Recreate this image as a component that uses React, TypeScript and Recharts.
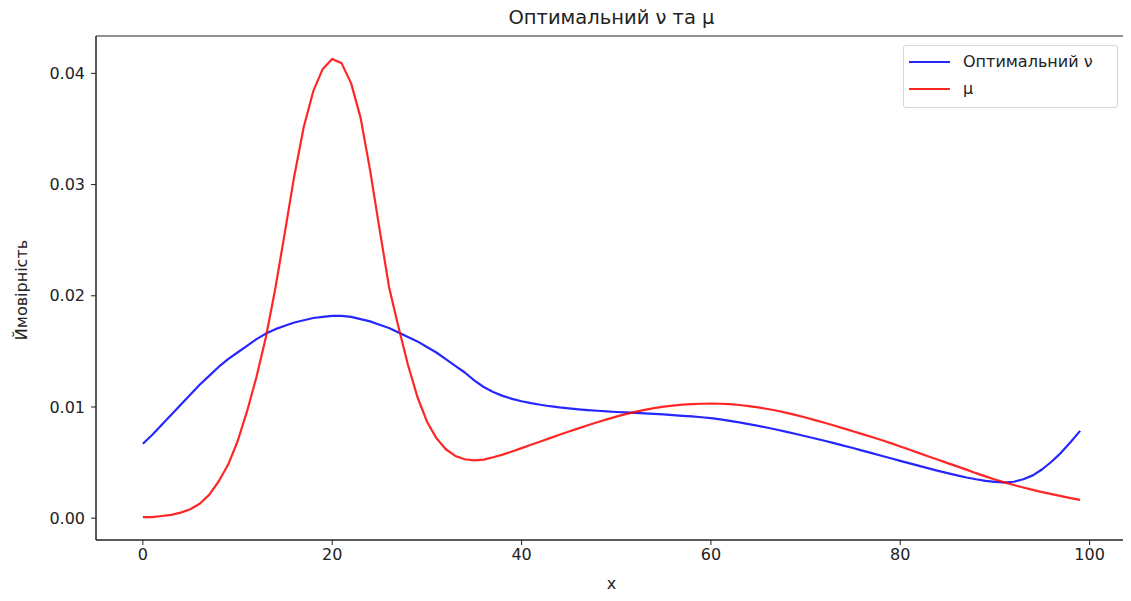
import React from 'react';
import { LineChart, Line, XAxis, YAxis, ReferenceArea } from 'recharts';

// Grid points x = 0 … 99
const xValues = [
  0, 1, 2, 3, 4, 5, 6, 7, 8, 9, 10, 11, 12, 13, 14, 15, 16, 17, 18, 19,
  20, 21, 22, 23, 24, 25, 26, 27, 28, 29, 30, 31, 32, 33, 34, 35, 36, 37, 38, 39,
  40, 41, 42, 43, 44, 45, 46, 47, 48, 49, 50, 51, 52, 53, 54, 55, 56, 57, 58, 59,
  60, 61, 62, 63, 64, 65, 66, 67, 68, 69, 70, 71, 72, 73, 74, 75, 76, 77, 78, 79,
  80, 81, 82, 83, 84, 85, 86, 87, 88, 89, 90, 91, 92, 93, 94, 95, 96, 97, 98, 99,
];

// Optimal ν
const nuValues = [
  0.0067, 0.0075, 0.0084, 0.0093, 0.0102, 0.0111, 0.012, 0.0128, 0.0136, 0.0143,
  0.0149, 0.0155, 0.0161, 0.0166, 0.017, 0.0173, 0.0176, 0.0178, 0.018, 0.0181,
  0.0182, 0.0182, 0.0181, 0.0179, 0.0177, 0.0174, 0.0171, 0.0167, 0.0163, 0.0159,
  0.0154, 0.0149, 0.0143, 0.0137, 0.0131, 0.0124, 0.0118, 0.01135, 0.011, 0.01073,
  0.01052, 0.01035, 0.0102, 0.01007, 0.00996, 0.00987, 0.00979, 0.00972, 0.00966, 0.0096,
  0.00955, 0.00951, 0.00947, 0.00943, 0.00938, 0.00933, 0.00927, 0.00921, 0.00915, 0.00908,
  0.009, 0.00888, 0.00875, 0.00861, 0.00846, 0.0083, 0.00813, 0.00795, 0.00776, 0.00757,
  0.00737, 0.00717, 0.00696, 0.00675, 0.00653, 0.00631, 0.00608, 0.00585, 0.00562, 0.00539,
  0.00516, 0.00493, 0.0047, 0.00448, 0.00426, 0.00405, 0.00385, 0.00366, 0.0035, 0.00336,
  0.00326, 0.00321, 0.00328, 0.0035, 0.00385, 0.0044, 0.0051, 0.0059, 0.00685, 0.00785,
];

// Target distribution μ
const muValues = [
  0.0001, 0.0001, 0.0002, 0.0003, 0.0005, 0.0008, 0.0013, 0.0021, 0.0033, 0.0048,
  0.0069, 0.0096, 0.0127, 0.0163, 0.0207, 0.0257, 0.0308, 0.0352, 0.0384, 0.0404,
  0.0413, 0.0409, 0.0391, 0.036, 0.0313, 0.026, 0.0208, 0.0172, 0.0138, 0.0109,
  0.0087, 0.0072, 0.0062, 0.0056, 0.0053, 0.0052, 0.00527, 0.00548, 0.00572, 0.006,
  0.0063, 0.0066, 0.0069, 0.0072, 0.0075, 0.00779, 0.00808, 0.00836, 0.00863, 0.00889,
  0.00913, 0.00936, 0.00956, 0.00974, 0.0099, 0.01003, 0.01013, 0.01021, 0.01026, 0.01029,
  0.0103, 0.01029, 0.01025, 0.01018, 0.01008, 0.00996, 0.00982, 0.00966, 0.00947, 0.00927,
  0.00905, 0.00882, 0.00858, 0.00833, 0.00808, 0.00782, 0.00756, 0.0073, 0.00703, 0.00675,
  0.00645, 0.00615, 0.00585, 0.00555, 0.00525, 0.00495, 0.00466, 0.00437, 0.00405, 0.00376,
  0.00348, 0.00322, 0.00298, 0.00276, 0.00255, 0.00235, 0.00216, 0.00198, 0.00181, 0.00165,
];

const xTicks = [0, 20, 40, 60, 80, 100];
const yTicks = [0, 0.01, 0.02, 0.03, 0.04];

const TITLE = 'Оптимальний ν та μ';
const X_LABEL = 'x';
const Y_LABEL = 'Ймовірність';
const NU_NAME = 'Оптимальний ν';
const MU_NAME = 'μ';

const NU_COLOR = 'rgba(0,0,255,0.85)';
const MU_COLOR = 'rgba(255,0,0,0.85)';
const FONT = '"DejaVu Sans", sans-serif';
const TEXT = '#222';
const AXIS = '#222';

const data = xValues.map((x, i) => ({ x, nu: nuValues[i], mu: muValues[i] }));

// 5% auto-margins around the data extents
const allY = [...nuValues, ...muValues];
const xMin = Math.min(...xValues);
const xMax = Math.max(...xValues);
const yMin = Math.min(...allY);
const yMax = Math.max(...allY);
const xPad = (xMax - xMin) * 0.05;
const yPad = (yMax - yMin) * 0.05;
const xDomain: [number, number] = [xMin - xPad, xMax + xPad];
const yDomain: [number, number] = [yMin - yPad, yMax + yPad];

const W = 1123;
const H = 593;

const tickStyle = { fontSize: 16, fill: TEXT, fontFamily: FONT };

export default function App() {
  return (
    <div style={{ position: 'relative', width: W, height: H, fontFamily: FONT }}>
      <LineChart width={W} height={H} data={data} margin={{ top: 28, right: 4, left: 28, bottom: 31 }}>
        <XAxis
          dataKey="x"
          type="number"
          domain={xDomain}
          ticks={xTicks}
          allowDataOverflow
          height={30}
          tick={tickStyle}
          tickSize={5}
          tickMargin={4}
          stroke={AXIS}
        />
        <YAxis
          type="number"
          domain={yDomain}
          ticks={yTicks}
          allowDataOverflow
          width={60}
          tick={tickStyle}
          tickSize={5}
          tickMargin={6}
          tickFormatter={(v: number) => v.toFixed(2)}
          stroke={AXIS}
        />
        {/* frame around the plotting area */}
        <ReferenceArea
          x1={xDomain[0]}
          x2={xDomain[1]}
          y1={yDomain[0]}
          y2={yDomain[1]}
          fill="none"
          fillOpacity={0}
          stroke={AXIS}
          strokeWidth={1}
          ifOverflow="visible"
        />
        <Line
          dataKey="nu"
          name={NU_NAME}
          type="linear"
          stroke={NU_COLOR}
          strokeWidth={2.2}
          strokeLinejoin="round"
          dot={false}
          activeDot={false}
          isAnimationActive={false}
        />
        <Line
          dataKey="mu"
          name={MU_NAME}
          type="linear"
          stroke={MU_COLOR}
          strokeWidth={2.2}
          strokeLinejoin="round"
          dot={false}
          activeDot={false}
          isAnimationActive={false}
        />
      </LineChart>

      {/* title */}
      <div
        style={{
          position: 'absolute', left: 88, width: 1031, top: 0, textAlign: 'center',
          fontSize: 19.5, color: TEXT, lineHeight: '20px',
        }}
      >
        {TITLE}
      </div>

      {/* x label */}
      <div
        style={{
          position: 'absolute', left: 88, width: 1031, top: 566, textAlign: 'center',
          fontSize: 16, color: TEXT, lineHeight: '20px',
        }}
      >
        {X_LABEL}
      </div>

      {/* y label */}
      <div style={{ position: 'absolute', left: 14, top: 282, width: 0, height: 0 }}>
        <div
          style={{
            position: 'absolute', left: -100, top: -10, width: 200, textAlign: 'center',
            fontSize: 16, color: TEXT, lineHeight: '20px', transform: 'rotate(-90deg)',
          }}
        >
          {Y_LABEL}
        </div>
      </div>

      {/* legend */}
      <div
        style={{
          position: 'absolute', left: 895, top: 37, width: 215, height: 63, boxSizing: 'border-box',
          border: '1px solid #d6d6d6', borderRadius: 3, background: 'rgba(255,255,255,0.8)',
        }}
      >
        {[
          { name: NU_NAME, color: NU_COLOR },
          { name: MU_NAME, color: MU_COLOR },
        ].map((item, i) => (
          <div
            key={item.name}
            style={{ position: 'absolute', left: 0, top: 6 + i * 27, height: 20, display: 'flex', alignItems: 'center' }}
          >
            <div style={{ marginLeft: 5, width: 41, height: 2.2, background: item.color }} />
            <span style={{ marginLeft: 13, fontSize: 16, color: TEXT, lineHeight: '20px', whiteSpace: 'nowrap' }}>
              {item.name}
            </span>
          </div>
        ))}
      </div>
    </div>
  );
}
